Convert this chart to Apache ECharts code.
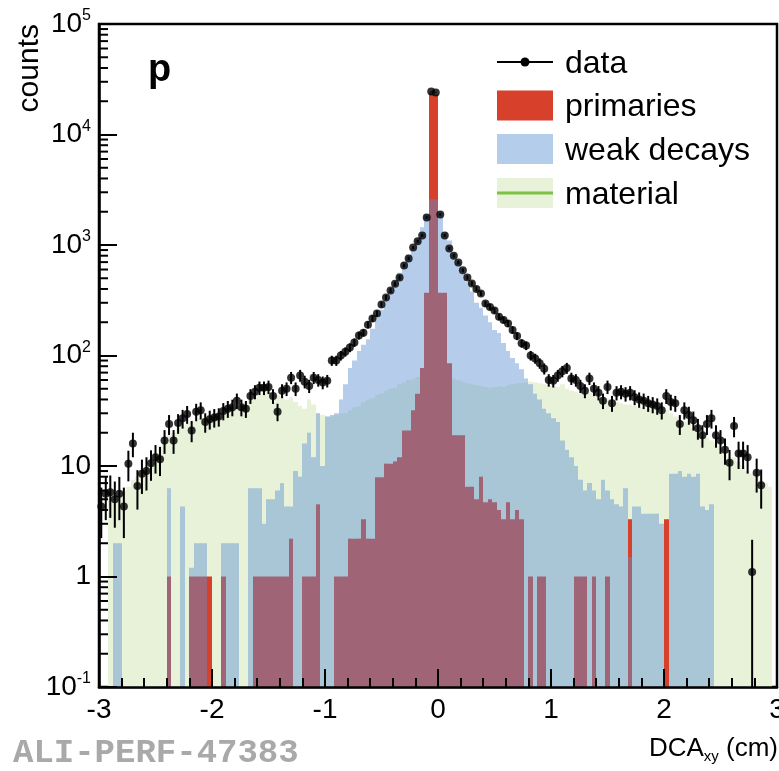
<!DOCTYPE html>
<html>
<head>
<meta charset="utf-8">
<script src="https://cdn.jsdelivr.net/npm/echarts@6/dist/echarts.min.js"></script>
<style>
  html, body { margin: 0; padding: 0; background: #fff; }
  #chart { width: 779px; height: 771px; }
</style>
</head>
<body>
<div id="chart"></div>
<script>
// Binning of the DCAxy histograms: 150 bins of 0.04 cm between -3 and 3 cm
const X_MIN = -3, X_MAX = 3, BIN_WIDTH = 0.04;
const Y_MIN = 0.1, Y_MAX = 1e5;

// Measured counts per bin
const dataCounts = [
  4.3, 5.6, 5.8, 5.0, 5.6, 4.3, 10.5, 16, 6.6, 8.5,
  9, 10.6, 12, 11.5, 17, 24, 17, 24.5, 27, 29.5,
  21, 31, 32, 25, 26.5, 27.5, 28, 31.5, 33, 34,
  39, 34, 33, 43, 47, 51, 51, 52, 43, 31,
  48, 50, 63, 50, 66, 58, 53, 63, 60, 57,
  59, 90, 90, 100, 108, 118, 131, 152, 161, 190,
  216, 240, 290, 335, 387, 445, 508, 652, 755, 948,
  1080, 1220, 1775, 24500, 24000, 1890, 1220, 930, 800, 695,
  590, 508, 449, 400, 364, 295, 275, 255, 224, 210,
  195, 170, 150, 129, 123, 100, 94, 85, 76, 60,
  59, 66, 72, 77, 62, 60, 53, 48, 62, 50,
  46, 39, 52, 37, 46, 47, 45, 46, 42, 40,
  39, 37, 36, 35, 32, 43, 38, 37, 24, 32,
  29, 26, 22, 19, 24, 27, 19, 17, 14, 10.7,
  23, 13, 13, 12, 1.1, 8.7, 6.7, null, null, null
];

// MC template: primary protons
const primaries = [
  null, null, null, null, null, null, null, null, null, null,
  null, null, null, null, null, 1, null, null, null, null,
  1, 1, 1, 1, 1, null, null, 1, null, null,
  null, null, null, null, 1, 1, 1, 1, 1, 1,
  1, 1, 2.2, null, null, 1, 1, 1, 4.5, null,
  null, null, 1, 1, 1, 2.2, 2.2, 2.2, 3.3, 2.2,
  2.2, 7.9, 7.9, 10.5, 10.5, 11, 12, 21, 21, 32,
  45, 77, 370, 24000, 23000, 370, 370, 85, 19, 19,
  19, 6.5, 6.5, 5, 8, 4.7, 5, 4.7, 4, 3.3,
  4.7, 3.3, 4, 3.3, null, 1, null, 1, 1, null,
  null, null, null, null, null, 1, 1, 1, null, 1,
  null, null, 1, null, null, null, null, 3.3, null, null,
  null, null, null, null, null, 3.3, null, null, null, null,
  null, null, null, null, null, null, null, null, null, null,
  null, null, null, null, null, null, null, null, null, null
];

// MC template: protons from weak decays
const weakDecays = [
  null, null, null, 2, 2, null, null, null, null, null,
  null, null, null, null, null, 6.3, null, null, 4.3, null,
  1.2, 2, 2, 2, null, null, null, 2, 2, 2,
  2, null, null, 6.3, 6.3, 6.3, 3, 5, 5, 6,
  7, 4.3, 4.3, 9, 8, 16, 20, 12, 30, 10,
  28, 29, 30, 40, 55, 77, 90, 110, 125, 140,
  175, 218, 260, 315, 380, 450, 560, 700, 820, 950,
  1150, 1450, 1900, 2600, 2600, 2000, 1300, 1100, 850, 700,
  550, 460, 380, 300, 270, 230, 200, 170, 160, 130,
  110, 95, 85, 75, 62, 55, 45, 40, 33, 30,
  27, 25, 17, 14, 12, 10, 7.5, 6, 7, 6,
  5, 7.5, 6, 5, 4.5, 4.3, 6.3, 1.5, 4.3, 4.3,
  3.7, 3.7, 3.7, 3.7, 3, null, 8.5, 8.5, 9, 8,
  8.5, 8, 8.5, 4.3, 4, 4.5, null, null, null, null,
  null, null, null, null, null, null, null, null, null, null
];

// MC template: secondaries from material
const material = [
  null, null, 5, 5.5, 5.3, 6, 6.5, 7.5, 8, 9,
  10, 11, 13, 15, 17, 19, 20, 22, 23, 24,
  25, 26, 27, 27, 29, 30, 31, 31, 33, 34,
  34, 36, 38, 40, 42, 44, 46, 47, 45, 44,
  42, 40, 42, 38, 35, 33, 40, 36, 30, 29,
  28, 28, 29, 30, 30, 32, 34, 35, 38, 40,
  41, 44, 45, 48, 50, 51, 55, 57, 60, 61,
  64, 66, 67, 70, 69, 68, 66, 63, 62, 60,
  58, 56, 55, 54, 53, 52, 51, 52, 53, 52,
  54, 55, 56, 56, 57, 58, 57, 56, 55, 54,
  53, 52, 55, 50, 48, 47, 45, 44, 46, 43,
  42, 40, 41, 38, 38, 37, 36, 36, 35, 34,
  34, 33, 33, 32, 31, 32, 30, 28, 26, 25,
  24, 22, 20, 19, 18, 17, 16, 15, 13, 12,
  12, 11, 10, 9, 8.5, 8, 7.5, 7, 6.5, null
];

const legendLabels = ['data', 'primaries', 'weak decays', 'material'];
const yTickExponents = [-1, 0, 1, 2, 3, 4, 5];
const yTickLabels = ['{b|10}{e|-1}', '{b|1}', '{b|10}', '{b|10}{e|2}', '{b|10}{e|3}', '{b|10}{e|4}', '{b|10}{e|5}'];

const FONT = '"Liberation Sans", Arial, Helvetica, sans-serif';
const COLORS = {
  primaries: '#d7412b',
  weak: 'rgba(90,145,210,0.45)',
  material: '#e7f2d8',
  weakLegend: '#b4cdeb',
  materialLine: '#7dc242'
};

const binLow = i => X_MIN + i * BIN_WIDTH;
const binCenter = i => X_MIN + (i + 0.5) * BIN_WIDTH;

function histItems(values) {
  const out = [];
  values.forEach((v, i) => {
    if (v != null) out.push([binLow(i), binLow(i + 1), v]);
  });
  return out;
}

function pointItems(values) {
  const out = [];
  values.forEach((v, i) => {
    if (v != null) out.push([binCenter(i), v]);
  });
  return out;
}

// Filled histogram bin from the axis floor up to the bin content
function histRenderer(fill) {
  return function (params, api) {
    const top = api.coord([api.value(0), api.value(2)]);
    const bottom = api.coord([api.value(1), Y_MIN]);
    const x0 = Math.round(top[0]);
    const x1 = Math.round(bottom[0]);
    const y1 = Math.round(bottom[1]);
    return {
      type: 'rect',
      shape: { x: x0, y: top[1], width: x1 - x0, height: y1 - top[1] },
      style: { fill: fill }
    };
  };
}

// Poisson error bar for each data point
function errorBarRenderer(params, api) {
  const x = api.value(0), v = api.value(1);
  const err = Math.sqrt(v);
  const lo = api.coord([x, Math.max(v - err, Y_MIN)]);
  const hi = api.coord([x, v + err]);
  return {
    type: 'line',
    shape: { x1: lo[0], y1: lo[1], x2: hi[0], y2: hi[1] },
    style: { stroke: '#000', lineWidth: 2 }
  };
}

// Log-axis minor ticks at 2..9 x 10^n, drawn inward from the y axis
const yMinorTicks = [];
for (let e = -1; e < 5; e++) {
  for (let k = 2; k <= 9; k++) yMinorTicks.push([X_MIN, k * Math.pow(10, e)]);
}
function minorTickRenderer(params, api) {
  const p = api.coord([api.value(0), api.value(1)]);
  return {
    type: 'line',
    shape: { x1: p[0], y1: p[1], x2: p[0] + 9, y2: p[1] },
    style: { stroke: '#000', lineWidth: 2 }
  };
}

// Legend drawn in ROOT style: symbol box at left, label at right
const legendX = 497, legendW = 56, legendH = 30, legendTextX = 565;
const legendRows = [62, 105.5, 149, 193];
const legendGraphics = [
  { type: 'line', shape: { x1: legendX, y1: legendRows[0], x2: legendX + legendW, y2: legendRows[0] },
    style: { stroke: '#000', lineWidth: 2 } },
  { type: 'circle', shape: { cx: legendX + legendW / 2, cy: legendRows[0], r: 4.5 }, style: { fill: '#000' } },
  { type: 'rect', shape: { x: legendX, y: legendRows[1] - legendH / 2, width: legendW, height: legendH },
    style: { fill: COLORS.primaries } },
  { type: 'rect', shape: { x: legendX, y: legendRows[2] - legendH / 2, width: legendW, height: legendH },
    style: { fill: COLORS.weakLegend } },
  { type: 'rect', shape: { x: legendX, y: legendRows[3] - legendH / 2, width: legendW, height: legendH },
    style: { fill: COLORS.material } },
  { type: 'line', shape: { x1: legendX, y1: legendRows[3], x2: legendX + legendW, y2: legendRows[3] },
    style: { stroke: COLORS.materialLine, lineWidth: 3 } }
].concat(legendLabels.map((t, i) => ({
  type: 'text', x: legendTextX, y: legendRows[i] + 2,
  style: { text: t, font: '32px ' + FONT, fill: '#000', align: 'left', verticalAlign: 'middle' }
})));

const chart = echarts.init(document.getElementById('chart'), null, { renderer: 'canvas' });

chart.setOption({
  animation: false,
  backgroundColor: '#fff',
  grid: {
    left: 99, right: 2, top: 24, bottom: 84,
    outerBoundsMode: 'none', containLabel: false,
    show: true, borderColor: '#000', borderWidth: 2.5, backgroundColor: '#fff'
  },
  xAxis: {
    type: 'value', min: X_MIN, max: X_MAX, interval: 1, z: 10,
    splitLine: { show: false },
    axisLine: { onZero: false, lineStyle: { color: '#000', width: 2.5 } },
    axisTick: { inside: true, length: 18, lineStyle: { color: '#000', width: 2 } },
    minorTick: { show: true, splitNumber: 5, length: 9, lineStyle: { color: '#000', width: 2 } },
    axisLabel: { color: '#000', fontSize: 28, fontFamily: FONT, margin: 9 }
  },
  yAxis: {
    type: 'log', logBase: 10, min: Y_MIN, max: Y_MAX, z: 10,
    splitLine: { show: false },
    axisLine: { onZero: false, lineStyle: { color: '#000', width: 2.5 } },
    axisTick: { inside: true, length: 18, lineStyle: { color: '#000', width: 2 } },
    axisLabel: {
      margin: 8,
      formatter: function (v) {
        const idx = yTickExponents.indexOf(Math.round(Math.log10(v)));
        return idx >= 0 ? yTickLabels[idx] : '';
      },
      rich: {
        b: { fontSize: 28, fontFamily: FONT, color: '#000', lineHeight: 32 },
        e: { fontSize: 16, fontFamily: FONT, color: '#000', lineHeight: 16, verticalAlign: 'top' }
      }
    }
  },
  graphic: [
    { type: 'text', x: 29.5, y: 24, rotation: Math.PI / 2,
      style: { text: 'counts', font: '30px ' + FONT, fill: '#000', align: 'right', verticalAlign: 'middle' } },
    { type: 'text', x: 778, y: 749,
      style: {
        text: '{b|DCA}{s|xy}{b| (cm)}', align: 'right', verticalAlign: 'middle',
        rich: {
          b: { fontSize: 26, fontFamily: FONT, fill: '#000', lineHeight: 30 },
          s: { fontSize: 15, fontFamily: FONT, fill: '#000', lineHeight: 15, verticalAlign: 'bottom' }
        }
      } },
    { type: 'text', x: 148, y: 71,
      style: { text: 'p', font: 'bold 38px ' + FONT, fill: '#000', align: 'left', verticalAlign: 'middle' } },
    { type: 'text', x: 13, y: 753,
      style: { text: 'ALI-PERF-47383', font: 'bold 34px "Liberation Mono", "DejaVu Sans Mono", monospace',
               fill: '#a9a9a9', align: 'left', verticalAlign: 'middle' } }
  ].concat(legendGraphics.map(g => Object.assign({ z: 100 }, g))),
  series: [
    { name: 'material', type: 'custom', z: 1, clip: true, silent: true,
      renderItem: histRenderer(COLORS.material), data: histItems(material) },
    { name: 'primaries', type: 'custom', z: 2, clip: true, silent: true,
      renderItem: histRenderer(COLORS.primaries), data: histItems(primaries) },
    { name: 'weak decays', type: 'custom', z: 3, clip: true, silent: true,
      renderItem: histRenderer(COLORS.weak), data: histItems(weakDecays) },
    { name: 'data errors', type: 'custom', z: 4, clip: true, silent: true,
      renderItem: errorBarRenderer, data: pointItems(dataCounts) },
    { name: 'data', type: 'scatter', z: 4, silent: true, symbol: 'circle', symbolSize: 8,
      itemStyle: { color: '#000' }, data: pointItems(dataCounts) },
    { name: 'y minor ticks', type: 'custom', z: 11, silent: true,
      renderItem: minorTickRenderer, data: yMinorTicks }
  ]
});
</script>
</body>
</html>
